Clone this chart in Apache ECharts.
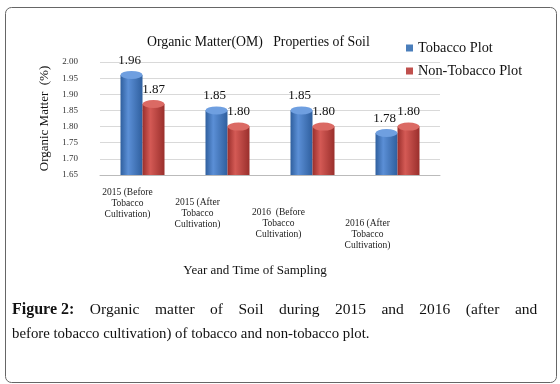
<!DOCTYPE html>
<html>
<head>
<meta charset="utf-8">
<script src="https://cdn.jsdelivr.net/npm/echarts@6/dist/echarts.min.js"></script>
<style>
  html, body { margin: 0; padding: 0; background: #fff; }
  #main { width: 560px; height: 384px; }
</style>
</head>
<body>
<div id="main"></div>
<script>
var categories = ['2015 (Before\nTobacco\nCultivation)', '2015 (After\nTobacco\nCultivation)', '2016  (Before\nTobacco\nCultivation)', '2016 (After\nTobacco\nCultivation)'];
var tobacco = [1.96, 1.85, 1.85, 1.78];
var nonTobacco = [1.87, 1.80, 1.80, 1.80];
var yTicks = [1.65, 1.70, 1.75, 1.80, 1.85, 1.90, 1.95, 2.00];

var serif = '"Liberation Serif", "DejaVu Serif", serif';
var barW = 22;

// cylinder-ish fill
function cyl(dark, light) {
    return new echarts.graphic.LinearGradient(0, 0, 1, 0, [
        { offset: 0, color: dark },
        { offset: 0.35, color: light },
        { offset: 1, color: dark }
    ]);
}
var blueFill = cyl('#2f5f9e', '#5b8fd6');
var redFill = cyl('#9a2f2c', '#d45a55');

var myChart = echarts.init(document.getElementById('main'));

// labels below the axis stagger downwards like the tilted floor
var labelPad = [0, 20, 40, 62];
var labelRight = [30, 60, 68, 60];

var rich = {};
for (var k = 0; k < 4; k++) {
    rich['l' + k] = { fontFamily: serif, fontSize: 9.5, color: '#222', lineHeight: 11, padding: [labelPad[k], labelRight[k], 0, 0] };
}

// caption, first line justified by widening the spaces
var capLine1 = 'Organic matter of Soil during 2015 and 2016 (after and'.split(' ');
var capLine2 = 'before tobacco cultivation) of tobacco and non-tobacco plot.';

var option = {
    animation: false,
    title: {
        text: 'Organic Matter(OM)   Properties of Soil',
        left: 142, top: 30,
        textStyle: { fontFamily: serif, fontSize: 13.8, fontWeight: 'normal', color: '#111' }
    },
    legend: {
        orient: 'vertical',
        left: 401, top: 36,
        itemWidth: 7, itemHeight: 7, itemGap: 9,
        icon: 'rect',
        textStyle: { fontFamily: serif, fontSize: 14.3, color: '#111' },
        data: [
            { name: 'Tobacco Plot', itemStyle: { color: '#4a7ebb' } },
            { name: 'Non-Tobacco Plot', itemStyle: { color: '#c0504d' } }
        ]
    },
    grid: { left: 100, right: 120, top: 62, bottom: 209 },
    xAxis: {
        type: 'category',
        data: categories,
        axisLine: { lineStyle: { color: '#bbb' } },
        axisTick: { show: false },
        axisLabel: {
            interval: 0,
            margin: 12,
            formatter: function (v, i) { return '{l' + i + '|' + v.split('\n').join('}\n{l' + i + '|') + '}'; },
            rich: rich
        },
        name: 'Year and Time of Sampling',
        nameLocation: 'middle',
        nameGap: 89,
        nameTextStyle: { fontFamily: serif, fontSize: 13, color: '#111', padding: [0, 30, 0, 0] }
    },
    yAxis: {
        type: 'value',
        min: yTicks[0], max: yTicks[yTicks.length - 1], interval: 0.05,
        axisLine: { show: false },
        axisTick: { show: false },
        splitLine: { lineStyle: { color: '#d9d9d9' } },
        axisLabel: {
            fontFamily: serif, fontSize: 9, color: '#333', margin: 22,
            formatter: function (v) { return v.toFixed(2); }
        },
        name: 'Organic Matter  (%)',
        nameLocation: 'middle',
        nameGap: 44,
        nameTextStyle: { fontFamily: serif, fontSize: 13, color: '#111' }
    },
    series: [
        {
            name: 'Tobacco Plot', type: 'bar', data: tobacco,
            barWidth: barW, barGap: '0%',
            itemStyle: { color: blueFill },
            label: {
                show: true, position: 'top', distance: 8, offset: [-2, 0],
                fontFamily: serif, fontSize: 13, color: '#111',
                formatter: function (p) { return p.value.toFixed(2); }
            }
        },
        {
            name: 'Non-Tobacco Plot', type: 'bar', data: nonTobacco,
            barWidth: barW,
            itemStyle: { color: redFill },
            label: {
                show: true, position: 'top', distance: 8, offset: [0, 0],
                fontFamily: serif, fontSize: 13, color: '#111',
                formatter: function (p) { return p.value.toFixed(2); }
            }
        },
        // cylinder tops
        {
            name: 'Tobacco Plot', type: 'pictorialBar', data: tobacco,
            symbol: 'circle', symbolPosition: 'end',
            symbolSize: [barW, 8], symbolOffset: [-barW / 2, '-50%'],
            itemStyle: { color: '#6f9fe0' }, z: 5, tooltip: { show: false }
        },
        {
            name: 'Non-Tobacco Plot', type: 'pictorialBar', data: nonTobacco,
            symbol: 'circle', symbolPosition: 'end',
            symbolSize: [barW, 8], symbolOffset: [barW / 2, '-50%'],
            itemStyle: { color: '#db6a64' }, z: 5, tooltip: { show: false }
        }
    ],
    graphic: [
        {
            type: 'rect', left: 3, top: 5, silent: true, z: -1,
            shape: { width: 551, height: 375, r: 6 },
            style: { fill: 'none', stroke: '#666', lineWidth: 1 }
        },
        {
            type: 'text', left: 12, top: 302,
            style: {
                text: '{b|Figure 2:}{s| }{t|' + capLine1.join('}{s| }{t|') + '}',
                rich: {
                    b: { fontWeight: 'bold', fontFamily: serif, fontSize: 16, fill: '#111' },
                    t: { fontFamily: serif, fontSize: 15.5, fill: '#111' },
                    s: { fontFamily: serif, fontSize: 15.5, width: 15.5 }
                }
            }
        },
        {
            type: 'text', left: 12, top: 327,
            style: {
                text: capLine2,
                font: '14.8px ' + serif, fill: '#111'
            }
        }
    ]
};

myChart.setOption(option);
</script>
</body>
</html>
